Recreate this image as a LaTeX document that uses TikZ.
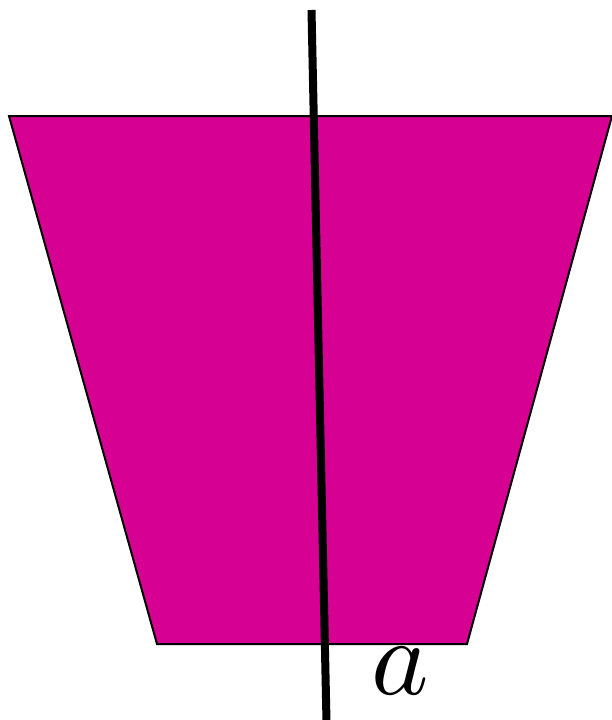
\documentclass[tikz,border=0pt]{standalone}
\definecolor{trapfill}{RGB}{214,0,147}
\begin{document}
\begin{tikzpicture}[x=1pt,y=-1pt]
  \useasboundingbox (0,0) rectangle (611,720);
  \coordinate (tl) at (9,116);
  \coordinate (tr) at (612,116);
  \coordinate (br) at (467,644);
  \coordinate (bl) at (157,644);
  \fill[trapfill, draw=black, line width=2pt] (tl) -- (tr) -- (br) -- (bl) -- cycle;
  \coordinate (top) at (311.5,10);
  \coordinate (bot) at (326.5,722);
  \draw[line width=8pt] (top) -- (bot);
  \node[scale=10.9, inner sep=0pt] (lab) at (400,671.5) {$a$};
\end{tikzpicture}
\end{document}
